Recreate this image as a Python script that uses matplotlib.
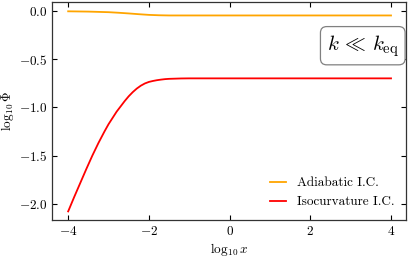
import numpy as np
import matplotlib
matplotlib.use("Agg")
import matplotlib.pyplot as plt

plt.rcParams["font.family"] = "serif"
plt.rcParams["font.serif"] = ["cmr10"]
plt.rcParams["mathtext.fontset"] = "cm"
plt.rcParams["axes.formatter.use_mathtext"] = True
plt.rcParams["axes.unicode_minus"] = True

# Values
x_adiabatic = [-4.0, -3.5, -3.0, -2.75, -2.5, -2.25, -2.0, -1.75, -1.5, -1.0, 0.0, 4.0]
phi_adiabatic = [-0.003, -0.006, -0.012, -0.018, -0.025, -0.033, -0.040, -0.044, -0.046, -0.046, -0.046, -0.046]

x_iso = [-4.0, -3.85, -3.7, -3.55, -3.4, -3.25, -3.1, -3.0, -2.9, -2.8, -2.7, -2.6, -2.5,
         -2.4, -2.3, -2.2, -2.1, -2.0, -1.9, -1.8, -1.7, -1.6, -1.5, -1.35, -1.2, -1.0, 0.0, 4.0]
phi_iso = [-2.08, -1.93, -1.785, -1.64, -1.50, -1.37, -1.25, -1.175, -1.11, -1.045, -0.99,
           -0.935, -0.885, -0.842, -0.805, -0.775, -0.752, -0.736, -0.726, -0.718, -0.712,
           -0.707, -0.704, -0.702, -0.700, -0.699, -0.699, -0.699]

labels = ["Adiabatic I.C.", "Isocurvature I.C."]
colors = ["orange", "red"]

fig = plt.figure(figsize=(4.08, 2.58), dpi=100)
ax = fig.add_axes([0.1275, 0.147, 0.8675, 0.845])

ax.plot(x_adiabatic, phi_adiabatic, color=colors[0], lw=1.3, label=labels[0])
ax.plot(x_iso, phi_iso, color=colors[1], lw=1.3, label=labels[1])

ax.set_xlim(-4.4, 4.37)
ax.set_ylim(-2.17, 0.093)
ax.set_xticks([-4, -2, 0, 2, 4])
ax.set_yticks([0.0, -0.5, -1.0, -1.5, -2.0])
ax.tick_params(direction="in", top=True, right=True, length=3.5, width=0.8, labelsize=9.5)
for s in ax.spines.values():
    s.set_linewidth(0.9)
    s.set_color("#333333")

ax.set_xlabel(r"$\log_{10}x$", fontsize=9.5, labelpad=2)
ax.set_ylabel(r"$\log_{10}\Phi$", fontsize=9.5, labelpad=2)

ax.legend(loc="lower right", frameon=False, fontsize=9.5, handlelength=1.2)

ax.text(3.3, -0.36, r"$k\,\ll\,k_{\rm eq}$", fontsize=15, ha="center", va="center",
        bbox=dict(boxstyle="round,pad=0.3", fc="white", ec="gray", lw=0.9))

fig.savefig("out.png", dpi=100)
